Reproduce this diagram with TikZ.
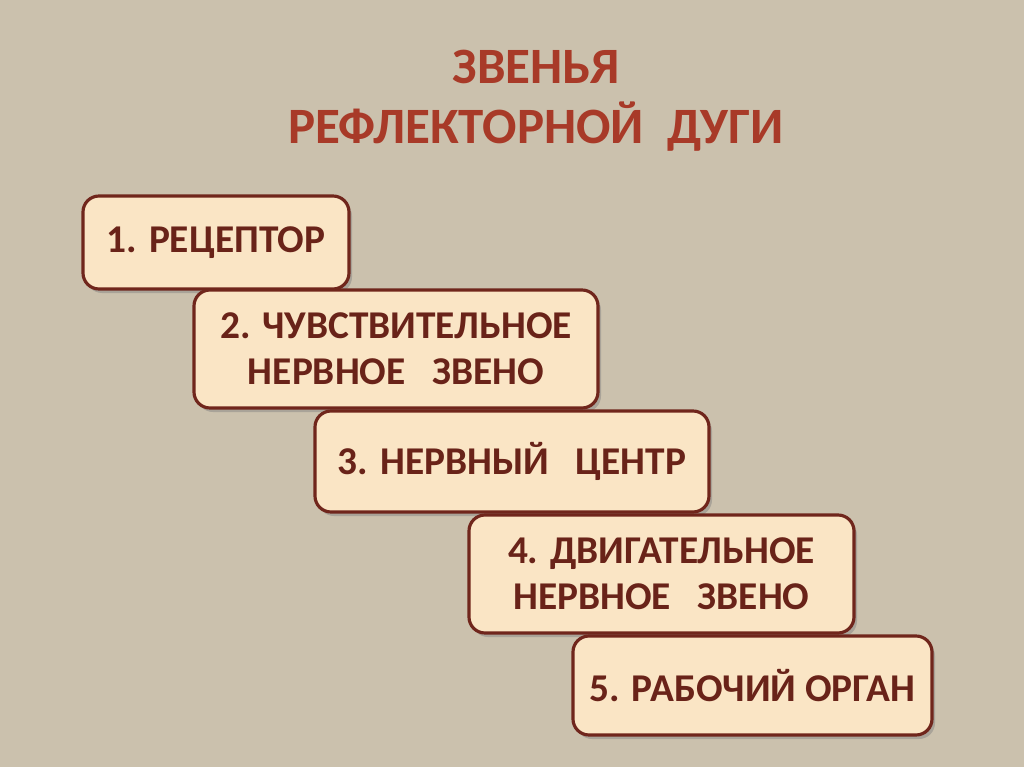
\documentclass[tikz,border=0pt]{standalone}
\usepackage{fontspec}
\setmainfont{Carlito}
\usetikzlibrary{shadows}
\definecolor{bgc}{RGB}{203,193,173}
\definecolor{boxfill}{RGB}{250,229,197}
\definecolor{boxline}{RGB}{112,38,28}
\definecolor{boxtext}{RGB}{105,35,25}
\definecolor{titlec}{RGB}{168,58,40}
\tikzset{
  stepbox/.style={draw=boxline, line width=1.8pt, fill=boxfill, rounded corners=0.32cm,
    drop shadow={shadow xshift=0.06cm, shadow yshift=-0.08cm, opacity=0.45},
    font=\fontsize{22.4}{26}\selectfont\bfseries, text=boxtext, align=center,
    inner sep=0pt},
  titletext/.style={font=\fontsize{29}{34}\selectfont\bfseries, text=titlec, align=center}
}
\begin{document}
\begin{tikzpicture}[x=0.02cm,y=-0.02cm]
\fill[bgc] (0,0) rectangle (1024,767);
\useasboundingbox (0,0) rectangle (1024,767);
\node[titletext] (title) at (536,101) {ЗВЕНЬЯ\\РЕФЛЕКТОРНОЙ\ \ ДУГИ};
\node[stepbox, minimum width=266*0.02cm, minimum height=93*0.02cm] (s1) at (216,242.5) {1. РЕЦЕПТОР};
\node[stepbox, minimum width=404*0.02cm, minimum height=118*0.02cm] (s2) at (396,349) {2. ЧУВСТВИТЕЛЬНОЕ\\НЕРВНОЕ\ \ \ ЗВЕНО};
\node[stepbox, minimum width=394*0.02cm, minimum height=101*0.02cm] (s3) at (512,461.5) {3. НЕРВНЫЙ\ \ \ ЦЕНТР};
\node[stepbox, minimum width=385*0.02cm, minimum height=118*0.02cm] (s4) at (661.5,574) {4. ДВИГАТЕЛЬНОЕ\\НЕРВНОЕ\ \ \ ЗВЕНО};
\node[stepbox, minimum width=359*0.02cm, minimum height=99*0.02cm] (s5) at (752.5,685.5) {5. РАБОЧИЙ ОРГАН};
\end{tikzpicture}
\end{document}
